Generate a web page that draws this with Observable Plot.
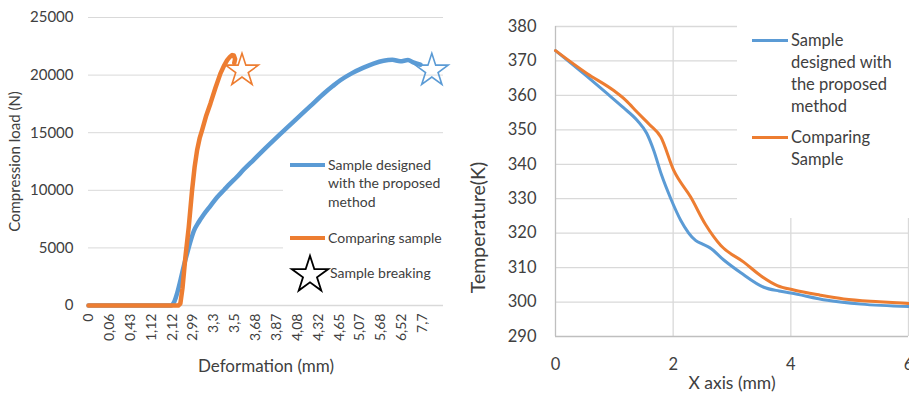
<!DOCTYPE html>
<html><head><meta charset="utf-8">
<script src="https://cdn.jsdelivr.net/npm/d3@7"></script>
<script src="https://cdn.jsdelivr.net/npm/@observablehq/plot@0.6"></script>
<style>
body{margin:0;background:#fff;font-family:Lato,sans-serif;color:#404040}
#wrap{position:relative;width:909px;height:393px;overflow:hidden;background:#fff}
.panel{position:absolute;top:0}
.box{position:absolute;background:#fff}
.sw{position:absolute}
.lt{position:absolute;white-space:nowrap;color:#404040}
</style></head><body>
<div id="wrap">
  <div id="left" class="panel" style="left:0"></div>
  <div id="right" class="panel" style="left:460px"></div>
  <div id="legL" class="box" style="left:283px;top:148px;width:172px;height:148px"></div>
  <div id="legR" class="box" style="left:737px;top:0;width:172px;height:218px"></div>
</div>
<script>
// ---- Left chart data (category axis: Deformation labels) ----
const deformationLabels = ["0","0,06","0,43","1,12","2,12","2,99","3,3","3,5","3,68","3,87","4,08","4,32","4,65","5,07","5,68","6,52","7,7"];
const loadTicks = [0, 5000, 10000, 15000, 20000, 25000];
// position along the category axis (in label steps) and load (N)
const designedPos  = [0, 3.95, 4.1, 4.25, 4.4, 4.56, 4.72, 4.88, 5.04, 5.28, 5.52, 5.84, 6.16, 6.5, 6.79, 7.1, 7.43, 7.91, 8.5, 9.19, 9.9, 10.62, 11.3, 11.7, 12.06, 12.6, 13.17, 13.65, 14.13, 14.55, 14.93, 15.3, 15.55, 15.9];
const designedLoad = [0, 0, 300, 1100, 2170, 3400, 4500, 5550, 6450, 7250, 7900, 8650, 9400, 10050, 10600, 11150, 11800, 12650, 13700, 14900, 16100, 17300, 18450, 19050, 19550, 20150, 20650, 21000, 21250, 21330, 21200, 21300, 21100, 20900];
const comparingPos  = [0, 4.3, 4.4, 4.5, 4.64, 4.8, 4.96, 5.08, 5.2, 5.32, 5.44, 5.64, 5.84, 6.08, 6.32, 6.5, 6.64, 6.78, 6.88, 6.96, 7.02, 6.98];
const comparingLoad = [0, 0, 170, 1500, 4200, 6800, 10000, 12000, 13480, 14500, 15220, 16500, 17540, 18900, 20150, 20850, 21300, 21600, 21740, 21700, 21400, 21050];
const breakPos = [16.44, 7.35];
const breakLoad = [20400, 20400];
const breakSeries = ["designed", "comparing"];

// ---- Right chart data ----
const tempTicks = [290, 300, 310, 320, 330, 340, 350, 360, 370, 380];
const xMmTicks = [0, 2, 4, 6];
const designedX = [0, 0.5, 0.88, 1.15, 1.39, 1.55, 1.67, 1.8, 1.96, 2.13, 2.38, 2.5, 2.62, 2.86, 3.15, 3.54, 3.8, 4.0, 4.62, 5.19, 6.0];
const designedT = [373, 366, 360.5, 356.5, 352.7, 349, 344, 337, 330, 323.7, 317.9, 316.8, 315.8, 312.2, 308.5, 304.3, 303.2, 302.6, 300.5, 299.4, 298.7];
const comparingX = [0, 0.54, 0.99, 1.2, 1.39, 1.6, 1.79, 2.01, 2.3, 2.55, 2.81, 3.2, 3.5, 3.77, 4.05, 4.5, 4.9, 5.5, 6.0];
const comparingT = [373, 366.3, 361.4, 358.5, 355.1, 351.5, 347.9, 338.2, 330.4, 322.5, 316.4, 311.6, 307.5, 304.8, 303.5, 302, 300.9, 300.1, 299.6];

const BLUE = "#5B9BD5", ORANGE = "#ED7D31", TEXT = "#404040";
const colorOf = s => s === "designed" ? BLUE : ORANGE;

const designed = designedPos.map((p, i) => ({p, v: designedLoad[i]}));
const comparing = comparingPos.map((p, i) => ({p, v: comparingLoad[i]}));
const breaks = breakPos.map((p, i) => ({p, v: breakLoad[i], s: breakSeries[i]}));

const left = Plot.plot({
  width: 460, height: 393,
  marginLeft: 88, marginRight: 17, marginTop: 17, marginBottom: 88,
  style: {fontFamily: "Lato, sans-serif", fontSize: "14px", color: TEXT, background: "white", overflow: "visible"},
  x: {domain: [0, deformationLabels.length]},
  y: {domain: [0, 25000]},
  marks: [
    Plot.gridY(loadTicks.slice(1), {stroke: "#d9d9d9", strokeOpacity: 1}),
    Plot.ruleY([0], {stroke: "#d9d9d9", strokeWidth: 1.3}),
    Plot.axisY({ticks: loadTicks, tickSize: 0, tickPadding: 15, tickFormat: d => String(d), label: null, fontSize: 15}),
    Plot.axisX({ticks: d3.range(deformationLabels.length), tickFormat: i => deformationLabels[i], tickRotate: -90, tickSize: 0, tickPadding: 8, label: null, fontSize: 14}),
    Plot.text(["Compression load (N)"], {frameAnchor: "left", rotate: -90, textAnchor: "middle", lineAnchor: "middle", dx: -73, fontSize: 15, fill: TEXT}),
    Plot.text(["Deformation (mm)"], {frameAnchor: "bottom", textAnchor: "middle", lineAnchor: "middle", dy: 61, fontSize: 17, fill: TEXT}),
    Plot.line(designed, {x: "p", y: "v", stroke: BLUE, strokeWidth: 4.5, curve: "monotone-x"}),
    Plot.line(comparing, {x: "p", y: "v", stroke: ORANGE, strokeWidth: 4.5}),
    Plot.dot(breaks, {x: "p", y: "v", symbol: "star", r: 10.3, stroke: d => colorOf(d.s), fill: "none", strokeWidth: 1.6})
  ]
});
document.getElementById("left").appendChild(left);

const dT = designedX.map((x, i) => ({x, t: designedT[i]}));
const cT = comparingX.map((x, i) => ({x, t: comparingT[i]}));
const right = Plot.plot({
  width: 449, height: 393,
  marginLeft: 95, marginRight: 1, marginTop: 26, marginBottom: 57,
  style: {fontFamily: "Lato, sans-serif", fontSize: "16.5px", color: TEXT, background: "white", overflow: "visible"},
  x: {domain: [0, 6]},
  y: {domain: [290, 380]},
  marks: [
    Plot.gridY(tempTicks.slice(1), {stroke: "#d9d9d9", strokeOpacity: 1, strokeWidth: 1.3}),
    Plot.gridX(xMmTicks.slice(1), {stroke: "#d9d9d9", strokeOpacity: 1, strokeWidth: 1.3}),
    Plot.ruleX([0], {stroke: "#bfbfbf", strokeWidth: 1.3}),
    Plot.ruleY([290], {stroke: "#bfbfbf", strokeWidth: 1.3}),
    Plot.axisY({ticks: tempTicks, tickSize: 0, tickPadding: 19, tickFormat: d => String(d), label: null}),
    Plot.axisX({ticks: xMmTicks, tickSize: 0, tickPadding: 22, tickFormat: d => String(d), label: null}),
    Plot.text(["X axis (mm)"], {frameAnchor: "bottom", textAnchor: "middle", lineAnchor: "middle", dy: 47, fontSize: 17.5, fill: TEXT}),
    Plot.text(["Temperature(K)"], {frameAnchor: "left", rotate: -90, textAnchor: "middle", lineAnchor: "middle", dx: -77, dy: 46, fontSize: 19.5, fill: TEXT}),
    Plot.line(dT, {x: "x", y: "t", stroke: BLUE, strokeWidth: 3, curve: "monotone-x"}),
    Plot.line(cT, {x: "x", y: "t", stroke: ORANGE, strokeWidth: 3, curve: "monotone-x"})
  ]
});
document.getElementById("right").appendChild(right);

// ---- Legends ----
const wrap = document.getElementById("wrap");
function add(html, style, cls) {
  const el = document.createElement("div");
  el.className = cls; el.innerHTML = html; Object.assign(el.style, style); wrap.appendChild(el); return el;
}
// left legend
add("", {left: "290px", top: "163px", width: "35px", height: "4px", background: BLUE}, "sw");
add("Sample designed<br>with the proposed<br>method", {left: "328px", top: "155.5px", fontSize: "14px", lineHeight: "18.5px"}, "lt");
add("", {left: "290px", top: "236px", width: "35px", height: "4px", background: ORANGE}, "sw");
add("Comparing sample", {left: "328px", top: "228.5px", fontSize: "14px", lineHeight: "18.5px"}, "lt");
const starPath = d3.symbol(d3.symbolStar, Math.PI * 11.5 * 11.5)();
add(`<svg width="44" height="44" viewBox="-22 -22 44 44"><path d="${starPath}" fill="none" stroke="#000" stroke-width="1.8"/></svg>`,
    {left: "288px", top: "253px", width: "44px", height: "44px"}, "sw");
add("Sample breaking", {left: "330px", top: "263.5px", fontSize: "14px", lineHeight: "18.5px"}, "lt");
// right legend
add("", {left: "752px", top: "38.5px", width: "36px", height: "3px", background: BLUE}, "sw");
add("Sample<br>designed with<br>the proposed<br>method", {left: "791px", top: "29px", fontSize: "16.5px", lineHeight: "22px"}, "lt");
add("", {left: "752px", top: "135.5px", width: "36px", height: "3px", background: ORANGE}, "sw");
add("Comparing<br>Sample", {left: "791px", top: "126px", fontSize: "16.5px", lineHeight: "22px"}, "lt");
</script>
</body></html>
